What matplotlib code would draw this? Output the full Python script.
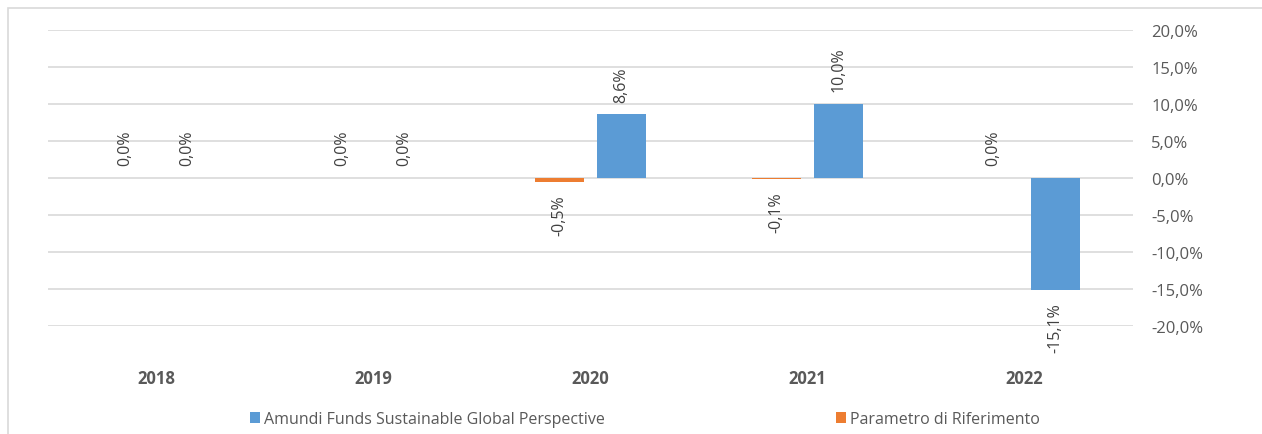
import numpy as np
import matplotlib.pyplot as plt
from matplotlib.patches import Rectangle

# data
years = ['2018', '2019', '2020', '2021', '2022']
fondo = [0.0, 0.0, 8.6, 10.0, -15.1]
parametro = [0.0, 0.0, -0.5, -0.1, 0.0]
fondo_name = 'Amundi Funds Sustainable Global Perspective'
param_name = 'Parametro di Riferimento'

blue = '#5b9bd5'
orange = '#ed7d31'
grey_txt = '#595959'

plt.rcParams['font.family'] = ['Open Sans', 'DejaVu Sans']

fig = plt.figure(figsize=(12.62, 4.35), dpi=100)
fig.patches.append(Rectangle((8/1262, -0.01), 1.1, 1 - 9/435 + 0.01,
                             transform=fig.transFigure, fill=False,
                             edgecolor='#d9d9d9', linewidth=1.2))
ax = fig.add_axes([48/1262, 1 - 327/435, (1133 - 48)/1262, 296/435])

x = np.arange(len(years))
w = 0.226
off = 0.143
b1 = ax.bar(x - off, parametro, w, color=orange, label=param_name, zorder=3)
b2 = ax.bar(x + off, fondo, w, color=blue, label=fondo_name, zorder=3)

def fmt(v):
    return ('%.1f%%' % v).replace('.', ',')

# etichette dati ruotate
for bars, vals in ((b1, parametro), (b2, fondo)):
    for r, v in zip(bars, vals):
        cx = r.get_x() + r.get_width() / 2
        if v >= 0:
            ax.annotate(fmt(v), (cx, v), xytext=(0, 9), textcoords='offset points',
                        rotation=90, ha='center', va='bottom', fontsize=11.5, color='#404040')
        else:
            ax.annotate(fmt(v), (cx, v), xytext=(0, -9), textcoords='offset points',
                        rotation=90, ha='center', va='top', fontsize=11.5, color='#404040')

ax.set_ylim(-20, 20)
ax.set_xlim(-0.5, len(years) - 0.5)
ax.set_yticks(np.arange(-20, 21, 5))
ax.set_yticklabels([fmt(v) for v in np.arange(-20, 21, 5)])
ax.yaxis.tick_right()
ax.tick_params(axis='y', length=0, pad=13, labelsize=12, labelcolor=grey_txt)
ax.set_xticks(x)
ax.set_xticklabels(years, fontweight='bold')
ax.tick_params(axis='x', length=0, pad=31, labelsize=12, labelcolor=grey_txt)
ax.grid(axis='y', color='#d9d9d9', linewidth=1.2, zorder=0)
for s in ax.spines.values():
    s.set_visible(False)

h, l = ax.get_legend_handles_labels()
fig.legend(h[::-1], l[::-1], loc='center', bbox_to_anchor=(0.511, 1 - 420/435), ncol=2,
           frameon=False, fontsize=11.5, labelcolor=grey_txt, handlelength=0.6,
           handleheight=0.7, handletextpad=0.25, columnspacing=14.5)

fig.savefig('out.png', dpi=100)
